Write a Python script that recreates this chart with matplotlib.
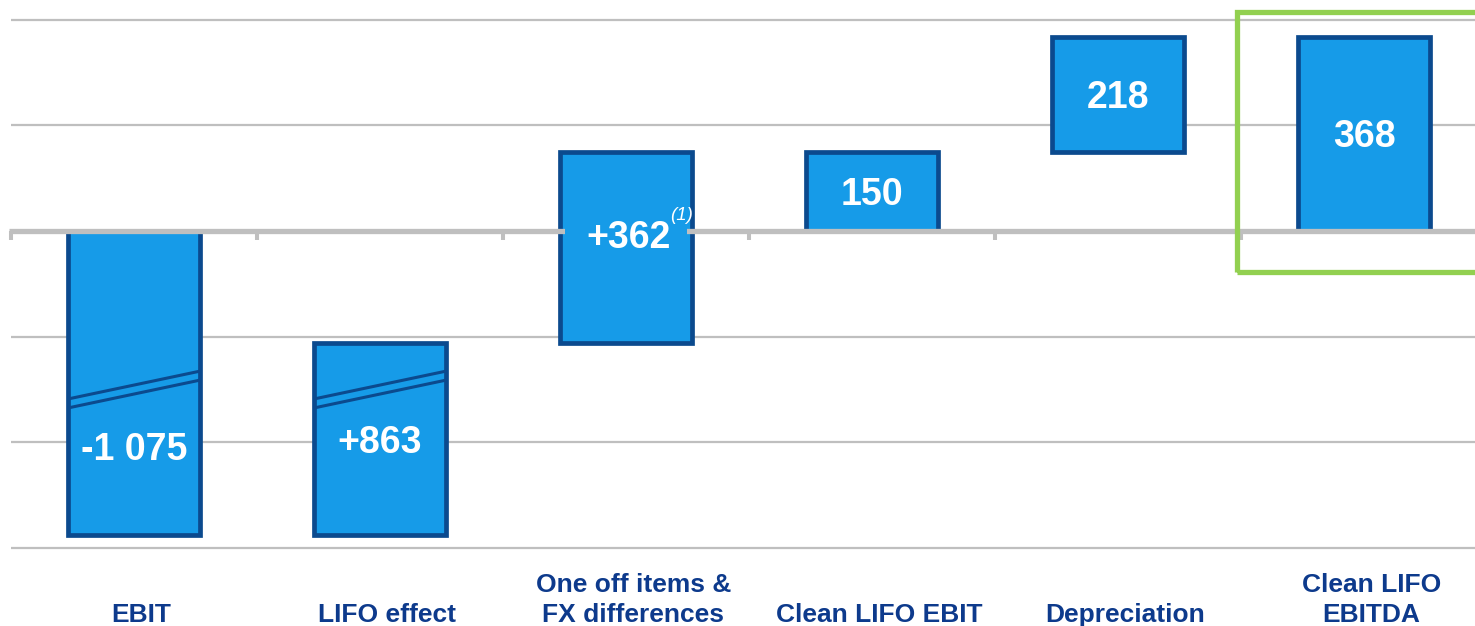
import numpy as np
import matplotlib.pyplot as plt
from matplotlib.patches import Rectangle

plt.rcParams['font.family'] = ['Liberation Sans', 'DejaVu Sans']

# EBIT bridge, values in m
categories = ['EBIT', 'LIFO effect', 'One off items &\nFX differences',
              'Clean LIFO EBIT', 'Depreciation', 'Clean LIFO\nEBITDA']
values = [-1075, 863, 362, 150, 218, 368]
value_labels = ['-1 075', '+863', '+362', '150', '218', '368']
is_total = [True, False, False, True, False, True]
grid_levels = [400, 200, -200, -400, -600]

BAR = '#169BE8'
EDGE = '#0B4A8E'
NAVY = '#0D3A8C'
GRID = '#BFBFBF'
GREEN = '#92D050'

# the axis is broken below break_at, everything lower is pulled up by break_gap
break_at, break_gap = -300, 500


def shown(v):
    return v + break_gap if v < break_at else v


# waterfall: start/end of every bar
lows, highs = [], []
running = 0
for v, total in zip(values, is_total):
    start = 0 if total else running
    end = v if total else running + v
    running = end
    lows.append(min(start, end))
    highs.append(max(start, end))

x = np.arange(len(categories))
bottoms = [shown(lo) for lo in lows]
tops = [shown(hi) for hi in highs]

fig = plt.figure(figsize=(14.75, 6.26), dpi=100)
ax = fig.add_axes([0, 0, 1, 1])
ax.set_xlim(-0.5447, 5.4512)
ax.set_ylim(-747.4, 437.1)
ax.axis('off')

ax.hlines(grid_levels, -0.5, 5.6, color=GRID, lw=1.6, zorder=0)

width = 0.54
ax.bar(x, np.subtract(tops, bottoms), bottom=bottoms, width=width,
       color=BAR, edgecolor=EDGE, linewidth=3.4, zorder=2)

# zero line with category separators
ax.hlines(0, -0.51, 5.6, color=GRID, lw=3.8, zorder=3)
ax.vlines(np.arange(len(categories)) - 0.5, -17, 0, color=GRID, lw=2.9, zorder=3)

for i in x:
    # hide the zero line where it runs through a bar
    if lows[i] < 0 < highs[i]:
        ax.add_patch(Rectangle((i - 0.248, -8), 0.496, 16, color=BAR, lw=0, zorder=3.5))
    # break marks on bars that cross the cut
    if lows[i] < break_at < highs[i]:
        for c in (break_at + 8.5, break_at - 8.5):
            ax.plot([i - 0.27, i + 0.27], [c - 26.5, c + 26.5],
                    color=EDGE, lw=2.2, solid_capstyle='butt', zorder=4)

label_y = [(b + t) / 2 for b, t in zip(bottoms, tops)]
label_y[0] = -408   # EBIT value sits below the break
label_y[2] += 25    # room for the footnote mark

cap = 0.729 * 27 / 2
for i in x:
    t = ax.annotate(value_labels[i], (i + (0.012 if i == 2 else 0), label_y[i]),
                    xytext=(0, -cap), textcoords='offset points',
                    ha='center', va='baseline',
                    fontsize=27, fontweight='bold', color='white', zorder=5)
    if i == 2:
        ax.annotate('(1)', xy=(1, 1), xycoords=t, xytext=(-1, 9.5),
                    textcoords='offset points', ha='left', va='top',
                    fontsize=13.5, style='italic', color='white', zorder=5)

for i, cat in enumerate(categories):
    ax.text(i + 0.03, -0.002, cat, transform=ax.get_xaxis_transform(),
            ha='center', va='bottom', fontsize=19, fontweight='bold',
            color=NAVY, linespacing=1.32)

# highlight box around the final result
ax.add_patch(Rectangle((4.484, -77.6), 1.3, 491.6, fill=False,
                       edgecolor=GREEN, lw=3.8, zorder=6))

fig.savefig('out.png', dpi=100)
